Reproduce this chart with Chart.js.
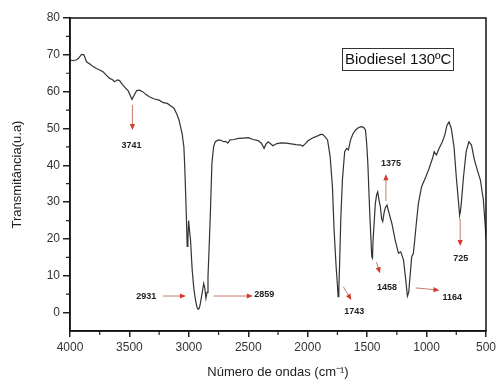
<!DOCTYPE html>
<html>
<head>
<meta charset="utf-8">
<script src="https://cdn.jsdelivr.net/npm/chart.js@4/dist/chart.umd.min.js"></script>
<style>
  html, body { margin: 0; padding: 0; background: #fff; }
  #wrap { width: 499px; height: 380px; position: relative; }
</style>
</head>
<body>
<div id="wrap"><canvas id="c" width="499" height="380"></canvas></div>
<script>
// ---- Data ----
const wavenumbers = [
  4000, 3972, 3950, 3930, 3903, 3883, 3861, 3833, 3805, 3778, 3750, 3722, 3695, 3667, 3645, 3625,
  3600, 3583, 3560, 3542, 3510, 3478, 3460, 3439, 3415, 3389, 3360, 3333, 3290, 3250, 3215, 3181,
  3160, 3125, 3100, 3083, 3070, 3056, 3042, 3035, 3028, 3020, 3014, 3008, 3002, 2995, 2986, 2972,
  2958, 2944, 2932, 2922, 2912, 2903, 2890, 2875, 2865, 2856, 2847, 2839, 2829, 2819, 2806, 2792,
  2778, 2750, 2730, 2708, 2690, 2672, 2653, 2620, 2583, 2540, 2500, 2460, 2417, 2390, 2367, 2350,
  2333, 2310, 2292, 2260, 2222, 2180, 2139, 2100, 2056, 2042, 2020, 2000, 1960, 1917, 1890, 1875,
  1855, 1833, 1811, 1792, 1778, 1761, 1750, 1744, 1738, 1733, 1722, 1708, 1689, 1672, 1658, 1639,
  1620, 1597, 1575, 1550, 1530, 1514, 1504, 1494, 1478, 1468, 1461, 1455, 1450, 1431, 1420, 1411,
  1400, 1389, 1378, 1369, 1358, 1347, 1333, 1319, 1292, 1264, 1236, 1217, 1194, 1175, 1161, 1150,
  1144, 1125, 1111, 1100, 1089, 1069, 1042, 1006, 978, 950, 936, 917, 894, 867, 847, 828,
  811, 792, 769, 750, 733, 725, 722, 715, 708, 689, 667, 644, 622, 597, 569, 547,
  522, 506, 500
];
const transmittance = [
  68.6, 68.4, 68.6, 69.0, 70.1, 70.0, 68.1, 67.5, 66.8, 66.3, 65.9, 65.4, 64.5, 63.6, 63.3, 62.7,
  63.2, 63.0, 62.0, 61.3, 60.2, 57.9, 59.0, 60.3, 60.4, 60.0, 59.2, 58.6, 58.0, 57.7, 57.0, 56.8,
  56.3, 55.5, 53.8, 52.3, 50.5, 48.5, 45.0, 40.0, 33.3, 25.0, 18.0, 20.0, 25.0, 22.5, 19.7, 11.6,
  6.5, 3.4, 1.5, 0.9, 1.2, 2.5, 5.0, 7.9, 6.5, 3.9, 5.5, 9.7, 18.0, 27.0, 40.5, 45.0,
  46.4, 46.9, 46.8, 46.4, 46.5, 46.0, 46.9, 47.0, 47.3, 47.4, 47.5, 47.0, 46.7, 46.0, 44.6, 45.8,
  46.4, 45.8, 45.3, 45.9, 46.1, 46.0, 45.8, 45.6, 45.5, 45.2, 45.9, 46.6, 47.4, 48.0, 48.4, 48.4,
  47.8, 46.9, 42.3, 34.2, 22.4, 12.5, 7.5, 4.3, 6.5, 11.6, 25.1, 36.0, 43.7, 44.6, 44.2, 46.9,
  48.5, 49.6, 50.2, 50.5, 50.3, 49.6, 46.0, 40.5, 27.0, 20.0, 15.2, 14.8, 19.7, 29.6, 32.0, 32.8,
  30.5, 28.8, 25.5, 24.7, 27.0, 28.5, 29.2, 27.4, 24.2, 19.7, 16.1, 16.5, 14.3, 8.8, 4.5, 5.5,
  7.9, 15.2, 16.1, 19.5, 23.3, 29.6, 34.2, 36.9, 39.2, 41.9, 43.7, 42.8, 44.6, 46.4, 48.2, 50.9,
  51.8, 50.0, 45.0, 36.9, 30.6, 27.5, 26.5, 27.5, 29.6, 36.9, 43.7, 46.4, 45.5, 41.4, 38.3, 36.0,
  30.6, 23.3, 20.0
];
const xTickValues = [4000, 3500, 3000, 2500, 2000, 1500, 1000, 500];
const yTickValues = [0, 10, 20, 30, 40, 50, 60, 70, 80];
const xMinorTicks = [3750, 3250, 2750, 2250, 1750, 1250, 750];
const yMinorTicks = [5, 15, 25, 35, 45, 55, 65, 75];

// peak annotations: label text, label position, arrow from -> to (all in data units)
const peakLabels = ['3741', '2931', '2859', '1743', '1458', '1375', '1164', '725'];
const peakLabelPos = [[3483, 45.5], [3358, 4.5], [2365, 4.8], [1608, 0.4], [1333, 6.7], [1300, 40.6], [783, 4.2], [713, 14.8]];
const peakArrowFrom = [[3475, 56.4], [3217, 4.5], [2792, 4.5], [1700, 7.0], [1421, 13.7], [1342, 30.3], [1092, 6.7], [717, 25.4]];
const peakArrowTo   = [[3475, 49.6], [3025, 4.5], [2462, 4.5], [1633, 3.4], [1392, 10.7], [1342, 37.6], [892, 6.1], [717, 18.1]];

const chartLabel = 'Biodiesel 130ºC';
const FONT = "'Liberation Sans', Arial, sans-serif";

const points = wavenumbers.map((w, i) => ({ x: w, y: transmittance[i] }));

const framePlugin = {
  id: 'frame',
  afterDraw(chart) {
    const { ctx, chartArea: a, scales } = chart;
    ctx.save();
    // minor ticks
    ctx.strokeStyle = '#222';
    ctx.lineWidth = 1.2;
    ctx.beginPath();
    xMinorTicks.forEach(v => {
      const px = scales.x.getPixelForValue(v);
      ctx.moveTo(px, a.bottom); ctx.lineTo(px, a.bottom + 4);
    });
    yMinorTicks.forEach(v => {
      const py = scales.y.getPixelForValue(v);
      ctx.moveTo(a.left - 4, py); ctx.lineTo(a.left, py);
    });
    ctx.stroke();
    // frame
    ctx.strokeStyle = '#111';
    ctx.lineWidth = 1.5;
    ctx.strokeRect(a.left, a.top, a.right - a.left, a.bottom - a.top);

    // legend-like label box
    ctx.font = '15px ' + FONT;
    ctx.fillStyle = '#111';
    ctx.textBaseline = 'middle';
    ctx.textAlign = 'left';
    const bx = a.left + 272, by = a.top + 30, bw = 111, bh = 22;
    ctx.lineWidth = 1;
    ctx.strokeStyle = '#333';
    ctx.strokeRect(bx + 0.5, by + 0.5, bw, bh);
    ctx.fillText(chartLabel, bx + 3, by + bh / 2 + 1);

    // peak annotations
    peakLabels.forEach((t, i) => {
      const x1 = scales.x.getPixelForValue(peakArrowFrom[i][0]);
      const y1 = scales.y.getPixelForValue(peakArrowFrom[i][1]);
      const x2 = scales.x.getPixelForValue(peakArrowTo[i][0]);
      const y2 = scales.y.getPixelForValue(peakArrowTo[i][1]);
      const ang = Math.atan2(y2 - y1, x2 - x1);
      const hl = 6, hw = 2.6;
      ctx.strokeStyle = '#c9786c';
      ctx.lineWidth = 1;
      ctx.beginPath();
      ctx.moveTo(x1, y1);
      ctx.lineTo(x2 - Math.cos(ang) * hl * 0.6, y2 - Math.sin(ang) * hl * 0.6);
      ctx.stroke();
      ctx.fillStyle = '#d23a2c';
      ctx.beginPath();
      ctx.moveTo(x2, y2);
      ctx.lineTo(x2 - Math.cos(ang) * hl - Math.sin(ang) * hw, y2 - Math.sin(ang) * hl + Math.cos(ang) * hw);
      ctx.lineTo(x2 - Math.cos(ang) * hl + Math.sin(ang) * hw, y2 - Math.sin(ang) * hl - Math.cos(ang) * hw);
      ctx.closePath();
      ctx.fill();

      const lx = scales.x.getPixelForValue(peakLabelPos[i][0]);
      const ly = scales.y.getPixelForValue(peakLabelPos[i][1]);
      ctx.font = 'bold 9px ' + FONT;
      ctx.fillStyle = '#222';
      ctx.textAlign = 'center';
      ctx.textBaseline = 'middle';
      ctx.fillText(t, lx, ly);
    });
    ctx.restore();
  }
};

new Chart(document.getElementById('c'), {
  type: 'line',
  data: {
    datasets: [{
      data: points,
      borderColor: '#333',
      borderWidth: 1.2,
      pointRadius: 0,
      tension: 0,
      fill: false
    }]
  },
  options: {
    responsive: false,
    animation: false,
    layout: { padding: { top: 18, right: 9, left: 0, bottom: 0 } },
    plugins: { legend: { display: false }, tooltip: { enabled: false } },
    scales: {
      x: {
        type: 'linear',
        reverse: true,
        min: 500,
        max: 4000,
        afterBuildTicks(scale) { scale.ticks = xTickValues.map(v => ({ value: v })); },
        afterFit(scale) { scale.height = 49; },
        ticks: { color: '#333', font: { family: FONT, size: 12 }, padding: 3, maxRotation: 0, autoSkip: false,
                 callback: v => String(v) },
        grid: { drawOnChartArea: false, drawTicks: true, tickLength: 6, color: '#222', lineWidth: 1.5 },
        border: { display: true, color: '#111', width: 1.5 },
        title: { display: true, text: 'Número de ondas (cm⁻¹)', color: '#222', font: { family: FONT, size: 13 }, padding: { top: 0, bottom: 0 } }
      },
      y: {
        type: 'linear',
        min: -5,
        max: 80,
        afterBuildTicks(scale) { scale.ticks = yTickValues.map(v => ({ value: v })); },
        afterFit(scale) { scale.width = 70; },
        ticks: { color: '#333', font: { family: FONT, size: 12 }, padding: 3, autoSkip: false,
                 callback: v => String(v) },
        grid: { drawOnChartArea: false, drawTicks: true, tickLength: 7, color: '#222', lineWidth: 1.5 },
        border: { display: true, color: '#111', width: 1.5 },
        title: { display: true, text: 'Transmitância(u.a)', color: '#222', font: { family: FONT, size: 13 }, padding: { top: 10, bottom: 0 } }
      }
    }
  },
  plugins: [framePlugin]
});
</script>
</body>
</html>
